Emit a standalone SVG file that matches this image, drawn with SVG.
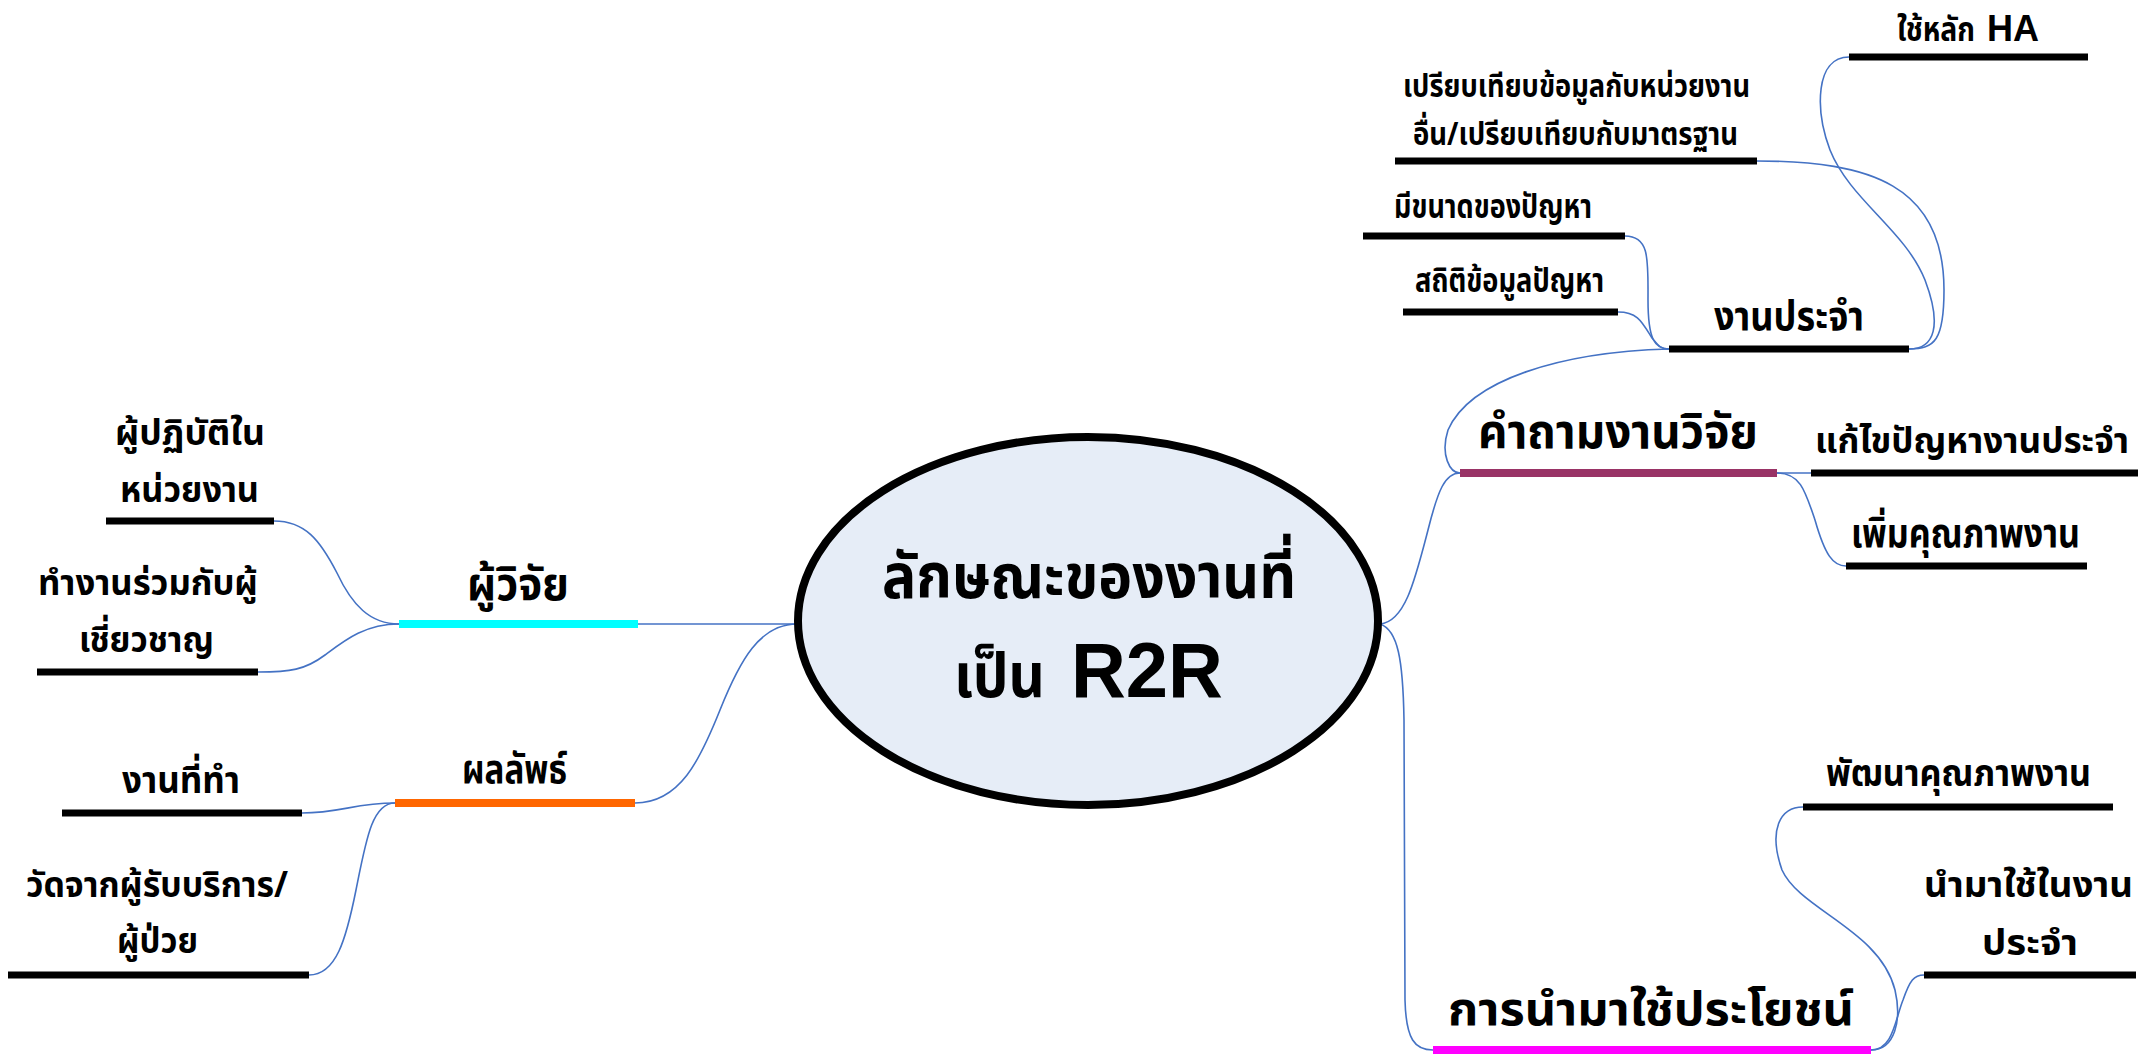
<svg xmlns="http://www.w3.org/2000/svg" width="2140" height="1055" viewBox="0 0 2140 1055">
<style>
.t{font-family:"Noto Sans Thai","Noto Sans","DejaVu Sans",sans-serif;font-weight:bold;fill:#000}
.a{font-family:"Liberation Sans",Arial,sans-serif;font-weight:bold;fill:#000}
.bar{stroke:#000;stroke-width:7;fill:none}
.cb{stroke-width:8;fill:none}
.c{stroke:#4472C4;stroke-width:1.6;fill:none}
</style>
<rect width="2140" height="1055" fill="#fff"/>
<g id="connectors">
<path class="c" d="M797,624 L638,624"/>
<path class="c" d="M797,624 C760,624 740,660 720,710 C700,760 680,803 635,803"/>
<path class="c" d="M399,624 C370,624 352,605 337,573 C320,540 305,521 274,521"/>
<path class="c" d="M399,624 C365,624 345,640 325,655 C305,670 290,672 258,672"/>
<path class="c" d="M395,803 C355,803 340,813 302,813"/>
<path class="c" d="M395,803 C372,803 366,840 356,890 C346,940 336,975 309,975"/>
<path class="c" d="M1380,624 C1405,622 1415,580 1428,530 C1438,490 1445,473 1460,473"/>
<path class="c" d="M1380,624 C1398,630 1403,660 1404,720 L1405,1000 C1406,1040 1415,1050 1433,1050"/>
<path class="c" d="M1777,473 L1811,473"/>
<path class="c" d="M1777,473 C1800,473 1805,490 1815,520 C1825,555 1833,566 1846,566"/>
<path class="c" d="M1460,473 C1450,473 1440,455 1448,430 C1470,380 1560,352 1669,349"/>
<path class="c" d="M1669,349 C1655,349 1648,340 1648,300 C1648,260 1650,236 1625,236"/>
<path class="c" d="M1669,349 C1660,349 1658,345 1652,338 C1642,322 1638,312 1618,312"/>
<path class="c" d="M1909,349 C1935,349 1944,340 1944,290 C1944,185 1870,161 1757,161"/>
<path class="c" d="M1909,349 C1935,349 1942,325 1925,280 C1905,230 1850,200 1830,150 C1815,110 1815,57 1849,57"/>
<path class="c" d="M1871,1050 C1895,1050 1902,1020 1895,990 C1880,930 1800,910 1782,870 C1768,830 1780,807 1803,807"/>
<path class="c" d="M1871,1050 C1893,1050 1895,1020 1903,1000 C1910,980 1914,975 1924,975"/>
</g>
<g id="center">
<ellipse cx="1088" cy="621" rx="290" ry="184" fill="#E6EDF7" stroke="#000" stroke-width="8"/>
<text class="t" x="882" y="598" font-size="62" textLength="414" lengthAdjust="spacingAndGlyphs">ลักษณะของงานที่</text>
<text class="t" x="954" y="697" font-size="62" textLength="91" lengthAdjust="spacingAndGlyphs">เป็น</text>
<text class="a" x="1071" y="697" font-size="78" textLength="152" lengthAdjust="spacingAndGlyphs">R2R</text>
</g>
<g id="n-researcher">
<line class="cb" x1="399" y1="624" x2="638" y2="624" stroke="#00FFFF"/>
<text class="t" x="467" y="600" font-size="46" textLength="102" lengthAdjust="spacingAndGlyphs">ผู้วิจัย</text>
</g>
<g id="n-practitioner">
<line class="bar" x1="106" y1="521" x2="274" y2="521"/>
<text class="t" x="115" y="445" font-size="36" textLength="150" lengthAdjust="spacingAndGlyphs">ผู้ปฏิบัติใน</text>
<text class="t" x="120" y="502" font-size="36" textLength="139" lengthAdjust="spacingAndGlyphs">หน่วยงาน</text>
</g>
<g id="n-expert">
<line class="bar" x1="37" y1="672" x2="258" y2="672"/>
<text class="t" x="38" y="595" font-size="36" textLength="220" lengthAdjust="spacingAndGlyphs">ทำงานร่วมกับผู้</text>
<text class="t" x="79" y="652" font-size="36" textLength="135" lengthAdjust="spacingAndGlyphs">เชี่ยวชาญ</text>
</g>
<g id="n-outcome">
<line class="cb" x1="395" y1="803" x2="635" y2="803" stroke="#FF6600"/>
<text class="t" x="462" y="783" font-size="40" textLength="105" lengthAdjust="spacingAndGlyphs">ผลลัพธ์</text>
</g>
<g id="n-work">
<line class="bar" x1="62" y1="813" x2="302" y2="813"/>
<text class="t" x="122" y="793" font-size="38" textLength="118" lengthAdjust="spacingAndGlyphs">งานที่ทำ</text>
</g>
<g id="n-measure">
<line class="bar" x1="8" y1="975" x2="309" y2="975"/>
<text class="t" x="26" y="897" font-size="36" textLength="262" lengthAdjust="spacingAndGlyphs">วัดจากผู้รับบริการ/</text>
<text class="t" x="117" y="953" font-size="36" textLength="81" lengthAdjust="spacingAndGlyphs">ผู้ป่วย</text>
</g>
<g id="n-question">
<line class="cb" x1="1460" y1="473" x2="1777" y2="473" stroke="#993366"/>
<text class="t" x="1478" y="448" font-size="48" textLength="280" lengthAdjust="spacingAndGlyphs">คำถามงานวิจัย</text>
</g>
<g id="n-fix">
<line class="bar" x1="1811" y1="473" x2="2138" y2="473"/>
<text class="t" x="1815" y="453" font-size="36" textLength="314" lengthAdjust="spacingAndGlyphs">แก้ไขปัญหางานประจำ</text>
</g>
<g id="n-improve">
<line class="bar" x1="1846" y1="566" x2="2087" y2="566"/>
<text class="t" x="1851" y="547" font-size="40" textLength="229" lengthAdjust="spacingAndGlyphs">เพิ่มคุณภาพงาน</text>
</g>
<g id="n-routine">
<line class="bar" x1="1669" y1="349" x2="1909" y2="349"/>
<text class="t" x="1714" y="330" font-size="40" textLength="150" lengthAdjust="spacingAndGlyphs">งานประจำ</text>
</g>
<g id="n-size">
<line class="bar" x1="1363" y1="236" x2="1625" y2="236"/>
<text class="t" x="1394" y="218" font-size="34" textLength="198" lengthAdjust="spacingAndGlyphs">มีขนาดของปัญหา</text>
</g>
<g id="n-stats">
<line class="bar" x1="1403" y1="312" x2="1618" y2="312"/>
<text class="t" x="1415" y="292" font-size="33" textLength="189" lengthAdjust="spacingAndGlyphs">สถิติข้อมูลปัญหา</text>
</g>
<g id="n-compare">
<line class="bar" x1="1395" y1="161" x2="1757" y2="161"/>
<text class="t" x="1403" y="97" font-size="32" textLength="347" lengthAdjust="spacingAndGlyphs">เปรียบเทียบข้อมูลกับหน่วยงาน</text>
<text class="t" x="1413" y="145" font-size="32" textLength="325" lengthAdjust="spacingAndGlyphs">อื่น/เปรียบเทียบกับมาตรฐาน</text>
</g>
<g id="n-ha">
<line class="bar" x1="1849" y1="57" x2="2088" y2="57"/>
<text class="t" x="1897" y="41" font-size="34" textLength="78" lengthAdjust="spacingAndGlyphs">ใช้หลัก</text>
<text class="a" x="1987" y="41" font-size="36" textLength="52" lengthAdjust="spacingAndGlyphs">HA</text>
</g>
<g id="n-benefit">
<line class="cb" x1="1433" y1="1050" x2="1871" y2="1050" stroke="#FF00FF"/>
<text class="t" x="1448" y="1025" font-size="46" textLength="406" lengthAdjust="spacingAndGlyphs">การนำมาใช้ประโยชน์</text>
</g>
<g id="n-develop">
<line class="bar" x1="1803" y1="807" x2="2113" y2="807"/>
<text class="t" x="1826" y="786" font-size="38" textLength="265" lengthAdjust="spacingAndGlyphs">พัฒนาคุณภาพงาน</text>
</g>
<g id="n-apply">
<line class="bar" x1="1924" y1="975" x2="2136" y2="975"/>
<text class="t" x="1924" y="897" font-size="36" textLength="209" lengthAdjust="spacingAndGlyphs">นำมาใช้ในงาน</text>
<text class="t" x="1982" y="955" font-size="36" textLength="96" lengthAdjust="spacingAndGlyphs">ประจำ</text>
</g>
</svg>
